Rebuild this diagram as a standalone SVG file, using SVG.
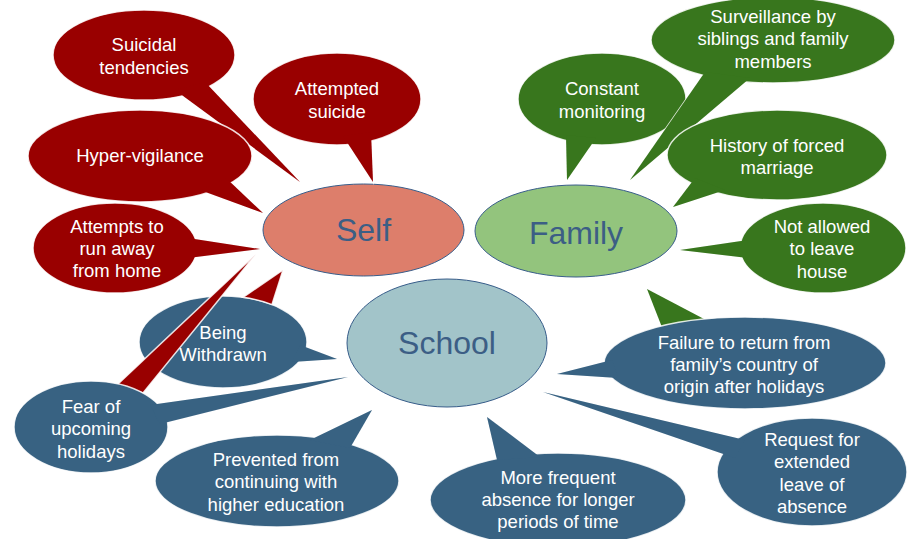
<svg xmlns="http://www.w3.org/2000/svg" width="907" height="539" viewBox="0 0 907 539">
<style>
.red{fill:#990000}
.grn{fill:#38761D}
.blu{fill:#386282}
.ol{stroke:#ffffff;stroke-opacity:.85;stroke-width:1.5}
.main{stroke:#385D8A;stroke-width:1}
.lbl{font-family:"Liberation Sans",Arial,sans-serif;font-size:18.5px;fill:#ffffff;text-anchor:middle}
.big{font-family:"Liberation Sans",Arial,sans-serif;font-size:32px;fill:#3C5E85;text-anchor:middle}
</style>
<rect width="907" height="539" fill="#ffffff"/>

<g id="self">
 <ellipse class="main" cx="363.5" cy="230" rx="100.5" ry="46" fill="#DD7E6B"/>
 <text class="big" x="363.5" y="241">Self</text>
</g>
<g id="family">
 <ellipse class="main" cx="576" cy="231" rx="101" ry="46" fill="#93C47D"/>
 <text class="big" x="576" y="244">Family</text>
</g>
<g id="school">
 <ellipse class="main" cx="447" cy="343" rx="100" ry="64" fill="#A2C4C9"/>
 <text class="big" x="447" y="354">School</text>
</g>

<g id="suicidal-tendencies" class="red">
 <polygon class="ol" points="175,90 205,82 300,182"/>
 <ellipse class="ol" cx="144" cy="55" rx="91" ry="45"/>
 <polygon points="175,90 205,82 300,182"/>
 <text class="lbl"><tspan x="144" y="51">Suicidal</tspan><tspan x="144" y="74">tendencies</tspan></text>
</g>
<g id="attempted-suicide" class="red">
 <polygon class="ol" points="343,136 371,132 373,182"/>
 <ellipse class="ol" cx="337" cy="99" rx="84" ry="46"/>
 <polygon points="343,136 371,132 373,182"/>
 <text class="lbl"><tspan x="337" y="95">Attempted</tspan><tspan x="337" y="118">suicide</tspan></text>
</g>
<g id="hyper-vigilance" class="red">
 <polygon class="ol" points="200,190 226,178 263,213"/>
 <ellipse class="ol" cx="140" cy="156" rx="112" ry="46"/>
 <polygon points="200,190 226,178 263,213"/>
 <text class="lbl" x="140" y="162">Hyper-vigilance</text>
</g>
<g id="run-away" class="red">
 <polygon class="ol" points="188,238 188,258 260,249"/>
 <ellipse class="ol" cx="115" cy="248" rx="82" ry="45"/>
 <polygon points="188,238 188,258 260,249"/>
 <text class="lbl"><tspan x="117" y="233">Attempts to</tspan><tspan x="117" y="255">run away</tspan><tspan x="117" y="277">from home</tspan></text>
</g>

<g id="constant-monitoring" class="grn">
 <polygon class="ol" points="566,135 596,138 567,180"/>
 <ellipse class="ol" cx="602" cy="99" rx="84" ry="46"/>
 <polygon points="566,135 596,138 567,180"/>
 <text class="lbl"><tspan x="602" y="95">Constant</tspan><tspan x="602" y="118">monitoring</tspan></text>
</g>
<g id="surveillance" class="grn">
 <polygon class="ol" points="705,72 750,78 630,180"/>
 <ellipse class="ol" cx="773" cy="40" rx="122" ry="43"/>
 <polygon points="705,72 750,78 630,180"/>
 <text class="lbl"><tspan x="773" y="23">Surveillance by</tspan><tspan x="773" y="45">siblings and family</tspan><tspan x="773" y="68">members</tspan></text>
</g>
<g id="forced-marriage" class="grn">
 <polygon class="ol" points="695,178 725,190 673,207"/>
 <ellipse class="ol" cx="777" cy="155" rx="110" ry="45"/>
 <polygon points="695,178 725,190 673,207"/>
 <text class="lbl"><tspan x="777" y="152">History of forced</tspan><tspan x="777" y="174">marriage</tspan></text>
</g>
<g id="not-allowed" class="grn">
 <polygon class="ol" points="748,240 748,258 680,250"/>
 <ellipse class="ol" cx="823" cy="248" rx="83" ry="45"/>
 <polygon points="748,240 748,258 680,250"/>
 <text class="lbl"><tspan x="822" y="233">Not allowed</tspan><tspan x="822" y="255">to leave</tspan><tspan x="822" y="278">house</tspan></text>
</g>

<g id="being-withdrawn" class="blu">
 <polygon class="ol" points="300,345 292,362 337,359"/>
 <ellipse class="ol" cx="223" cy="342" rx="84" ry="46"/>
 <polygon points="300,345 292,362 337,359"/>
 <text class="lbl"><tspan x="223" y="339">Being</tspan><tspan x="223" y="361">Withdrawn</tspan></text>
</g>

<g id="connectors">
 <path class="red ol" d="M283,270 L243,297.3 A84,46 0 0 1 272,304.6 Z"/>
 <polygon class="red ol" points="256,254 117,385 143,393"/>
 <polygon class="grn" points="647,289 665,335 725,330"/>
</g>

<g id="fear-holidays" class="blu">
 <polygon class="ol" points="150,405 160,424 348,377"/>
 <ellipse class="ol" cx="91" cy="427" rx="77" ry="46"/>
 <polygon points="150,405 160,424 348,377"/>
 <text class="lbl"><tspan x="91" y="413">Fear of</tspan><tspan x="91" y="435">upcoming</tspan><tspan x="91" y="458">holidays</tspan></text>
</g>
<g id="higher-education" class="blu">
 <polygon class="ol" points="310,440 350,448 372,410"/>
 <ellipse class="ol" cx="277" cy="481" rx="122" ry="46"/>
 <polygon points="310,440 350,448 372,410"/>
 <text class="lbl"><tspan x="276" y="466">Prevented from</tspan><tspan x="276" y="488">continuing with</tspan><tspan x="276" y="511">higher education</tspan></text>
</g>
<g id="frequent-absence" class="blu">
 <polygon class="ol" points="497,460 540,457 487,417"/>
 <ellipse class="ol" cx="558" cy="500" rx="128" ry="47"/>
 <polygon points="497,460 540,457 487,417"/>
 <text class="lbl"><tspan x="558" y="484">More frequent</tspan><tspan x="558" y="506">absence for longer</tspan><tspan x="558" y="528">periods of time</tspan></text>
</g>
<g id="failure-to-return" class="blu">
 <polygon class="ol" points="612,360 618,378 557,374"/>
 <ellipse class="ol" cx="745" cy="363" rx="141" ry="46"/>
 <polygon points="612,360 618,378 557,374"/>
 <text class="lbl"><tspan x="744" y="349">Failure to return from</tspan><tspan x="744" y="371">family’s country of</tspan><tspan x="744" y="393">origin after holidays</tspan></text>
</g>
<g id="extended-leave" class="blu">
 <polygon class="ol" points="745,440 735,458 543,392"/>
 <ellipse class="ol" cx="812" cy="472" rx="95" ry="54"/>
 <polygon points="745,440 735,458 543,392"/>
 <text class="lbl"><tspan x="812" y="446">Request for</tspan><tspan x="812" y="468">extended</tspan><tspan x="812" y="491">leave of</tspan><tspan x="812" y="513">absence</tspan></text>
</g>
</svg>
